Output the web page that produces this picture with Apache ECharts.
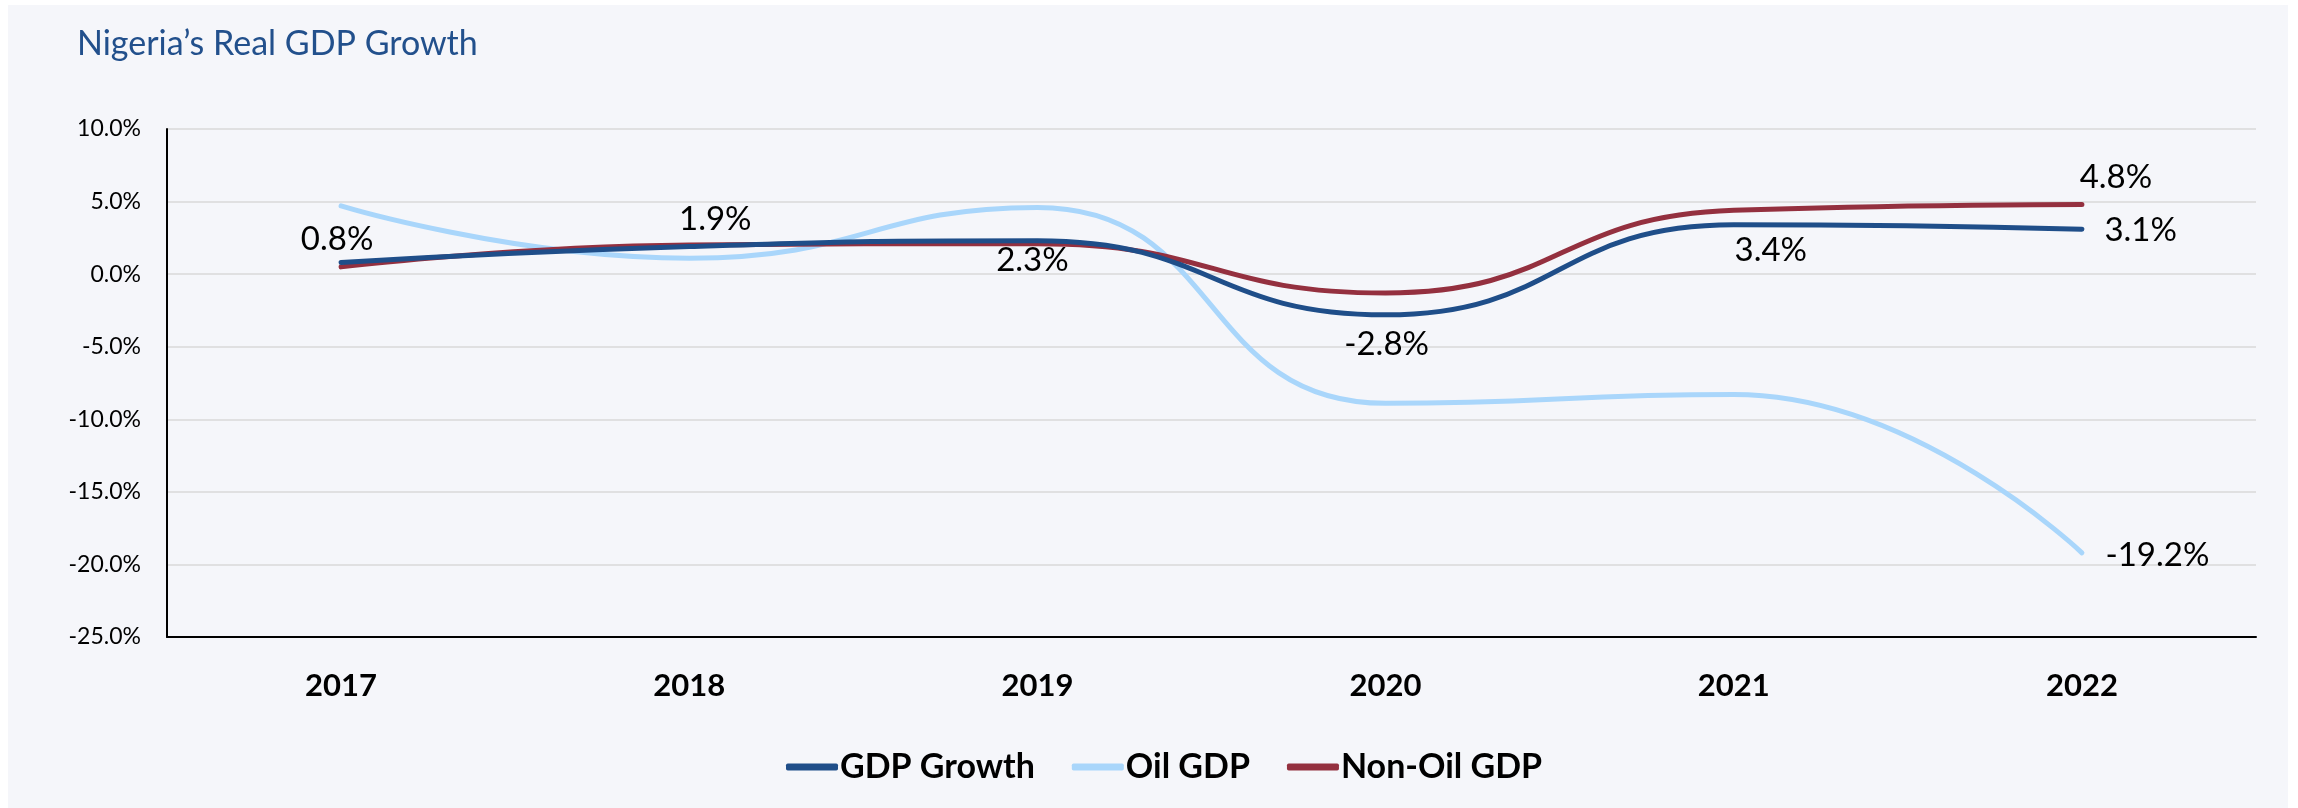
<!DOCTYPE html>
<html>
<head>
<meta charset="utf-8">
<title>Nigeria's Real GDP Growth</title>
<script src="https://cdn.jsdelivr.net/npm/echarts@6/dist/echarts.min.js"></script>
<style>
    html, body { margin: 0; padding: 0; background: #ffffff; }
    #main { width: 2298px; height: 808px; }
</style>
</head>
<body>
<div id="main"></div>
<script>
// data
const years = ['2017', '2018', '2019', '2020', '2021', '2022'];
const gdpGrowth = [0.8, 1.9, 2.3, -2.8, 3.4, 3.1];
const oilGdp = [4.7, 1.1, 4.6, -8.9, -8.3, -19.2];
const nonOilGdp = [0.5, 2.0, 2.1, -1.3, 4.4, 4.8];
const seriesNames = ['GDP Growth', 'Oil GDP', 'Non-Oil GDP'];

const FONT = 'Lato';
const colors = ['#1f4e89', '#a9d6fb', '#94303f'];

var chartDom = document.getElementById('main');
var myChart = echarts.init(chartDom);

const labelText = (p) => p.value.toFixed(1) + '%';

const labelStyle = {
    show: true,
    fontFamily: FONT,
    fontSize: 33,
    color: '#000',
    formatter: labelText
};

// where each data label sits (matches the reference placements)
const gdpLabels = [
    { position: 'top', offset: [-4, -1] },
    { position: 'top', offset: [26, -5] },
    { position: 'bottom', offset: [-5, -2] },
    { position: 'bottom', offset: [1, 8] },
    { position: 'bottom', offset: [37, 4] },
    { position: 'right', distance: 22, offset: [0, 1] }
];

const gdpData = gdpGrowth.map((v, i) => ({
    value: v,
    label: Object.assign({}, labelStyle, gdpLabels[i])
}));
const oilData = oilGdp.map((v, i) => (i == oilGdp.length - 1 ? {
    value: v,
    label: Object.assign({}, labelStyle, { position: 'right', distance: 23, offset: [0, 3] })
} : v));
const nonOilData = nonOilGdp.map((v, i) => (i == nonOilGdp.length - 1 ? {
    value: v,
    label: Object.assign({}, labelStyle, { position: 'top', offset: [34, -5] })
} : v));

const lineSeries = (name, data, color, z) => ({
    name: name,
    type: 'line',
    data: data,
    smooth: 0.5,
    symbol: 'circle',
    symbolSize: 1,
    showSymbol: true,
    z: z,
    lineStyle: { color: color, width: 5, cap: 'round' },
    itemStyle: { color: color }
});

var option = {
    backgroundColor: '#ffffff',
    animation: false,
    color: colors,
    graphic: [{
        type: 'rect',
        z: -10,
        shape: { x: 8, y: 5, width: 2280, height: 803 },
        style: { fill: '#f5f6fa' }
    }],
    title: {
        text: 'Nigeria\u2019s Real GDP Growth',
        left: 72,
        top: 22,
        textStyle: { fontFamily: FONT, fontSize: 34, fontWeight: 'normal', color: '#22508c' }
    },
    legend: {
        data: seriesNames,
        top: 745,
        left: 781,
        icon: 'roundRect',
        itemWidth: 52,
        itemHeight: 7,
        itemGap: 37,
        textStyle: { fontFamily: FONT, fontSize: 34, fontWeight: 'bold', color: '#000', padding: [0, 0, 0, -3] }
    },
    grid: {
        left: 167,
        right: 2298 - 2256,
        top: 129,
        bottom: 808 - 637
    },
    xAxis: [{
        type: 'category',
        data: years,
        axisLine: { show: false },
        axisTick: { show: false },
        axisLabel: { fontFamily: FONT, fontSize: 31, fontWeight: 'bold', color: '#000', margin: 33 }
    }, {
        type: 'category',
        data: years,
        position: 'bottom',
        axisLine: { onZero: true, lineStyle: { color: '#000', width: 2 } },
        axisTick: { show: false },
        axisLabel: { show: false }
    }],
    yAxis: {
        type: 'value',
        min: -25,
        max: 10,
        interval: 5,
        axisLine: { show: true, lineStyle: { color: '#000', width: 2 } },
        axisTick: { show: false },
        axisLabel: {
            fontFamily: FONT,
            fontSize: 23,
            color: '#000',
            margin: 26,
            formatter: (v) => v.toFixed(1) + '%'
        },
        splitLine: { lineStyle: { color: '#d9d9d9', width: 1.5 } }
    },
    series: [
        lineSeries(seriesNames[0], gdpData, colors[0], 4),
        lineSeries(seriesNames[1], oilData, colors[1], 2),
        lineSeries(seriesNames[2], nonOilData, colors[2], 3)
    ]
};

myChart.setOption(option);
</script>
</body>
</html>
